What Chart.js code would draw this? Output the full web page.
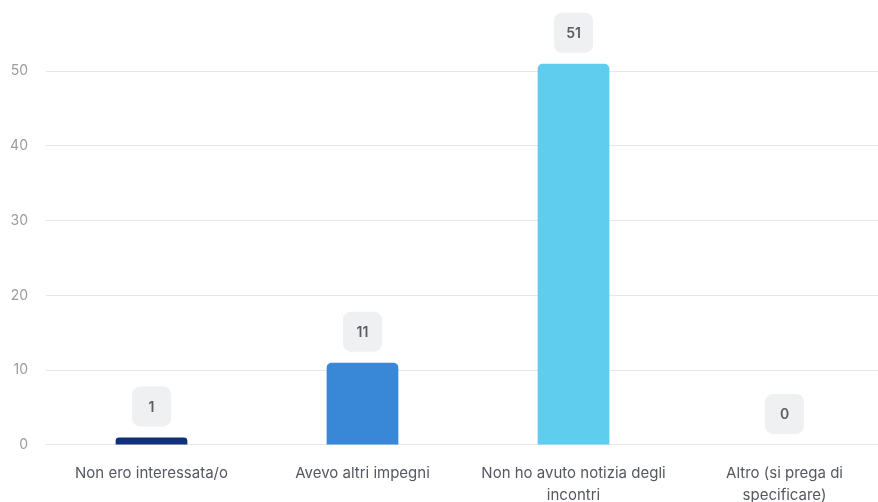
<!DOCTYPE html>
<html>
<head>
<meta charset="utf-8">
<script src="https://cdn.jsdelivr.net/npm/chart.js@4"></script>
<style>
html,body{margin:0;padding:0;background:#fff;overflow:hidden;}
#outer{width:878px;height:502px;overflow:hidden;position:relative;}
#wrap{width:890px;height:502px;position:relative;}
</style>
</head>
<body>
<div id="outer"><div id="wrap"><canvas id="c"></canvas></div></div>
<script>
const categories = [
  "Non ero interessata/o",
  "Avevo altri impegni",
  ["Non ho avuto notizia degli", "incontri"],
  ["Altro (si prega di", "specificare)"]
];
const values = [1, 11, 51, 0];
const barColors = ["#11307c", "#3987d7", "#5ecdee", "#8fd3ef"];
const yTicks = [0, 10, 20, 30, 40, 50];

const badgePlugin = {
  id: 'badges',
  afterDatasetsDraw(chart) {
    const ctx = chart.ctx;
    const meta = chart.getDatasetMeta(0);
    ctx.save();
    meta.data.forEach((bar, i) => {
      const w = 39, h = 40, r = 8;
      const cx = bar.x;
      const bottom = bar.y - 11;
      const x = cx - w / 2, y = bottom - h;
      ctx.fillStyle = '#eff0f2';
      ctx.beginPath();
      ctx.roundRect(x, y, w, h, r);
      ctx.fill();
      ctx.fillStyle = '#5b5e66';
      ctx.font = '600 14px Inter';
      ctx.textAlign = 'center';
      ctx.textBaseline = 'middle';
      ctx.fillText(String(values[i]), cx, y + h / 2 + 1);
    });
    ctx.restore();
  }
};

new Chart(document.getElementById('c'), {
  type: 'bar',
  data: {
    labels: categories,
    datasets: [{
      data: values,
      backgroundColor: barColors,
      borderRadius: { topLeft: 5, topRight: 5, bottomLeft: 0, bottomRight: 0 },
      borderSkipped: 'bottom',
      categoryPercentage: 1,
      barPercentage: 0.34
    }]
  },
  options: {
    responsive: true,
    maintainAspectRatio: false,
    animation: false,
    layout: { padding: { top: 25, left: 0, right: 0, bottom: -23 } },
    plugins: { legend: { display: false }, tooltip: { enabled: false } },
    scales: {
      x: {
        grid: { display: false, drawTicks: false },
        border: { display: false },
        ticks: {
          color: '#555860',
          font: { family: 'Inter', size: 15, lineHeight: 1.47 },
          padding: 18,
          maxRotation: 0,
          autoSkip: false
        }
      },
      y: {
        min: 0,
        max: 56,
        afterBuildTicks(scale) {
          scale.ticks = yTicks.map(v => ({ value: v }));
        },
        afterFit(scale) { scale.width = 46; },
        grid: { color: '#e6e7e9', lineWidth: 1, drawTicks: false },
        border: { display: false },
        ticks: {
          color: '#9a9ca1',
          font: { family: 'Inter', size: 14 },
          padding: 18
        }
      }
    }
  },
  plugins: [badgePlugin]
});
</script>
</body>
</html>
